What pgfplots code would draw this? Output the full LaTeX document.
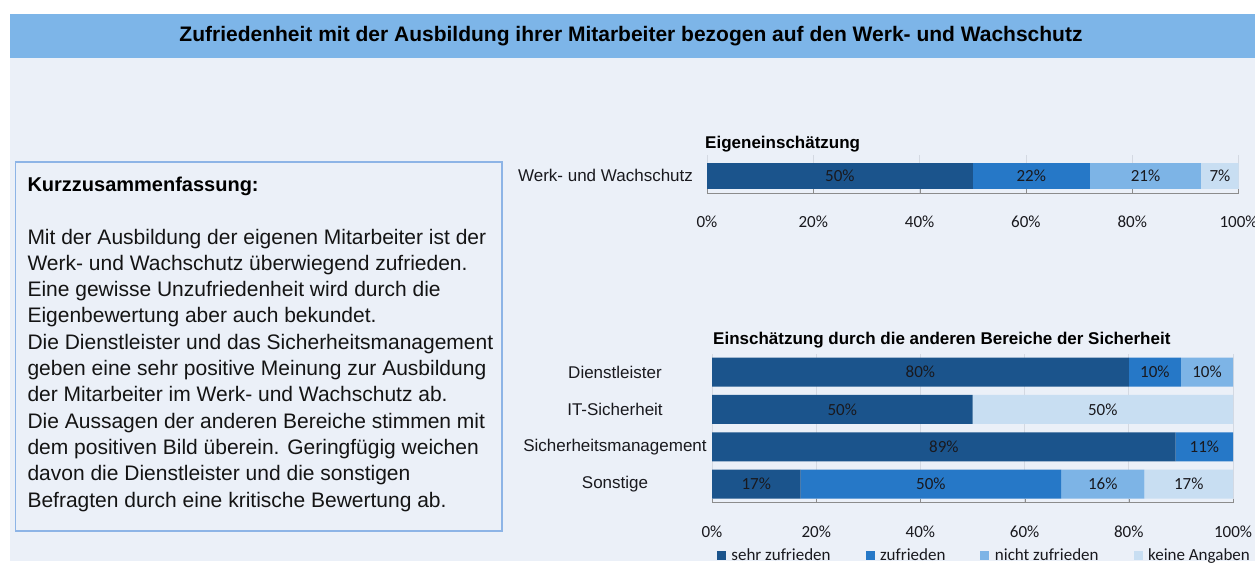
\documentclass[border=0pt]{standalone}
\usepackage{pgfplots}
\pgfplotsset{compat=1.18}
\usepackage{fontspec}
\setmainfont{Liberation Sans}
\newfontfamily\calib{Carlito}
\definecolor{cA}{RGB}{27,84,140}
\definecolor{cB}{RGB}{38,120,199}
\definecolor{cC}{RGB}{125,180,230}
\definecolor{cD}{RGB}{200,222,242}
\definecolor{bgc}{RGB}{235,240,248}
\definecolor{hdr}{RGB}{125,181,232}
\definecolor{boxc}{RGB}{141,180,230}
\definecolor{gridc}{RGB}{212,217,226}
\definecolor{lblc}{RGB}{25,25,30}
\definecolor{txtc}{RGB}{20,20,20}
\definecolor{axc}{RGB}{140,140,140}
\pgfplotsset{
  mybar/.style={
    scale only axis, anchor=south west,
    xbar stacked, xmin=0, xmax=100, enlargelimits=false,
    xtick={0,20,40,60,80,100},
    xticklabels={0\%,20\%,40\%,60\%,80\%,100\%},
    /pgf/number format/assume math mode=true,
    xticklabel style={font=\calib\fontsize{17}{19}\selectfont, text=lblc, anchor=center, yshift=-29pt},
    yticklabel style={font=\fontsize{17}{20}\selectfont, text=lblc, anchor=center},
    separate axis lines,
    axis x line*=bottom, axis y line*=left,
    x axis line style={draw=axc, line width=1pt, -},
    y axis line style={draw=none},
    ytick style={draw=none},
    xtick style={draw=axc},
    tick align=inside, major tick length=4pt,
    xmajorgrids, grid style={gridc, line width=0.8pt},
    point meta=rawx,
    nodes near coords={\pgfmathfloatifflags{\pgfplotspointmeta}{0}{}{\pgfmathprintnumber{\pgfplotspointmeta}\%}},
    every node near coord/.append style={anchor=center, font=\calib\fontsize{17}{19}\selectfont, text=lblc},
  }
}
\begin{document}
\begin{tikzpicture}[x=1pt,y=1pt]
\useasboundingbox (0,0) rectangle (1255,-563);
\fill[white] (0,0) rectangle (1255,-563);
\fill[bgc] (10,-58) rectangle (1255,-561);
\fill[hdr] (10,-14) rectangle (1255,-58);
\node[font=\fontsize{21}{24}\selectfont\bfseries, text=black] at (631,-36)
  {Zufriedenheit mit der Ausbildung ihrer Mitarbeiter bezogen auf den Werk- und Wachschutz};
\draw[boxc, line width=1.3pt, fill=bgc] (15.7,-162) rectangle (502,-531);
\node[anchor=base west, inner sep=0, font=\fontsize{20}{24}\selectfont\bfseries] at (27.3,-191) {Kurzzusammenfassung:};
\foreach \t [count=\i from 0] in {
  Mit der Ausbildung der eigenen Mitarbeiter ist der,
  Werk- und Wachschutz überwiegend zufrieden.,
  Eine gewisse Unzufriedenheit wird  durch die,
  Eigenbewertung aber auch bekundet.,
  Die Dienstleister und das Sicherheitsmanagement,
  geben eine sehr positive Meinung zur Ausbildung,
  der  Mitarbeiter im Werk- und Wachschutz ab.,
  Die Aussagen der anderen Bereiche stimmen mit,
  dem positiven Bild überein. Geringfügig weichen,
  davon die Dienstleister und die sonstigen,
  Befragten durch eine kritische Bewertung ab.}
  {\node[anchor=base west, inner sep=0, font=\fontsize{21}{24}\selectfont, text=txtc] at (27.3,{-244-26.3*\i}) {\t};}

\node[anchor=base west, inner sep=0, font=\fontsize{17}{20}\selectfont\bfseries] at (705,-148) {Eigeneinschätzung};
\node[anchor=base west, inner sep=0, font=\fontsize{17}{20}\selectfont\bfseries] at (713,-344) {Einschätzung durch die anderen Bereiche der Sicherheit};

\begin{axis}[mybar,
  at={(707pt,-193pt)},
  width=531.5pt, height=38pt,
  bar width=26pt,
  ymin=-17.2, ymax=20.8,
  ytick={0}, yticklabels={Werk- und Wachschutz},
  yticklabel style={xshift=-101.5pt},
]
\addplot[fill=cA, draw=none] coordinates {(50,0)};
\addplot[fill=cB, draw=none] coordinates {(22,0)};
\addplot[fill=cC, draw=none] coordinates {(21,0)};
\addplot[fill=cD, draw=none] coordinates {(7,0)};
\end{axis}

\begin{axis}[mybar,
  at={(712pt,-502.7pt)},
  width=521pt, height=149.2pt,
  bar width=29pt,
  ymin=-0.5, ymax=3.5,
  ytick={0,1,2,3}, yticklabels={Sonstige,Sicherheitsmanagement,IT-Sicherheit,Dienstleister},
  yticklabel style={xshift=-97pt},
  legend style={at={(0,0)}, anchor=north west, xshift=1.7pt, yshift=-42pt,
    draw=none, fill=none, legend columns=4,
    font=\calib\fontsize{17}{20}\selectfont, text=lblc,
    /tikz/every even column/.append style={column sep=33pt},
    /tikz/every odd column/.append style={column sep=3.5pt}},
  legend image code/.code={\fill[#1] (0pt,-4.5pt) rectangle (9pt,4.5pt);},
]
\addplot[fill=cA, draw=none] coordinates {(17,0) (89,1) (50,2) (80,3)};
\addplot[fill=cB, draw=none] coordinates {(50,0) (11,1) (0,2) (10,3)};
\addplot[fill=cC, draw=none] coordinates {(16,0) (0,1) (0,2) (10,3)};
\addplot[fill=cD, draw=none] coordinates {(17,0) (0,1) (50,2) (0,3)};
\legend{sehr zufrieden, zufrieden, nicht zufrieden, keine Angaben}
\end{axis}
\end{tikzpicture}
\end{document}
